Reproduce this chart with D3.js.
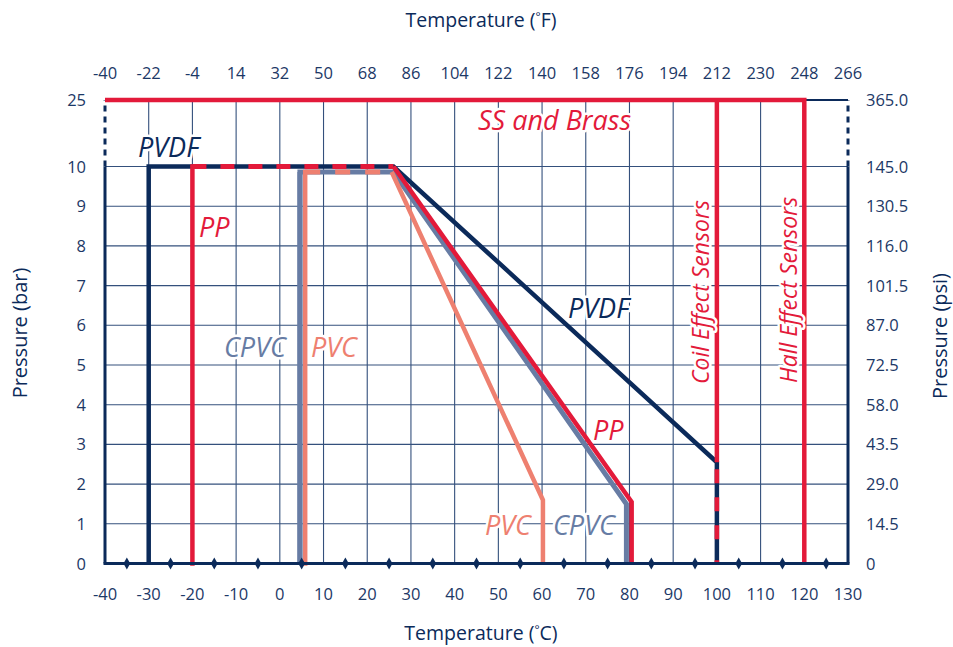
<!DOCTYPE html>
<html>
<head>
<meta charset="utf-8">
<script src="https://cdn.jsdelivr.net/npm/d3@7"></script>
<style>
  html, body { margin: 0; padding: 0; background: #fff; }
  svg { display: block; font-family: "Open Sans", "Noto Sans", sans-serif; }
</style>
</head>
<body>
<svg id="chart" width="953" height="647"></svg>
<script>
// ---------- data ----------
const celsiusTicks = [-40, -30, -20, -10, 0, 10, 20, 30, 40, 50, 60, 70, 80, 90, 100, 110, 120, 130];
const fahrenheitLabels = ["-40", "-22", "-4", "14", "32", "50", "68", "86", "104", "122", "140", "158", "176", "194", "212", "230", "248", "266"];
const barTicks = [0, 1, 2, 3, 4, 5, 6, 7, 8, 9, 10, 25];
const psiLabels = ["0", "14.5", "29.0", "43.5", "58.0", "72.5", "87.0", "101.5", "116.0", "130.5", "145.0", "365.0"];
const markerTemps = [-35, -25, -15, -5, 5, 15, 25, 35, 45, 55, 65, 75, 85, 95, 105, 115, 125];

// series: [°C, bar]
const pvdf = [[-30, 0], [-30, 10], [26, 10], [100, 2.55], [100, 0]];
const pp = [[-20, 0], [-20, 10], [26, 10], [80.5, 1.55], [80.5, 0]];
const cpvc = [[4.6, 0], [4.6, 9.86], [26, 9.86], [79.3, 1.5], [79.3, 0]];
const pvc = [[5.8, 0], [5.8, 9.86], [25.6, 9.86], [60.2, 1.6], [60.2, 0]];
const ssBrass = [[-40, 25], [120, 25], [120, 0]];
const coilEffect = [[100, 25], [100, 2.55]];

// ---------- styles ----------
const NAVY = "#0b2a5a";
const RED = "#e31a3a";
const GRAY = "#677ca4";
const SALMON = "#ee8070";
const TEXT = "#1c3866";
const GRID = "#34507c";

const svg = d3.select("#chart");
const x = d3.scaleLinear().domain([-40, 130]).range([105, 848]);
const y = d3.scaleLinear().domain([0, 10, 25]).range([563.5, 166.5, 100]);
const line = d3.line().x(d => x(d[0])).y(d => y(d[1]));

// ---------- grid ----------
const grid = svg.append("g");
grid.selectAll(".vg").data(celsiusTicks.slice(1, -1)).join("line")
  .attr("x1", d => x(d)).attr("x2", d => x(d))
  .attr("y1", y(25)).attr("y2", y(0))
  .attr("stroke", GRID).attr("stroke-width", 1.1);
grid.selectAll(".hg").data(barTicks.filter(d => d > 0 && d <= 10)).join("line")
  .attr("x1", x(-40)).attr("x2", x(130))
  .attr("y1", d => y(d)).attr("y2", d => y(d))
  .attr("stroke", GRID).attr("stroke-width", 1.1);

// top border (navy), axes
svg.append("line").attr("x1", x(-40)).attr("x2", x(130)).attr("y1", y(25)).attr("y2", y(25))
  .attr("stroke", NAVY).attr("stroke-width", 2);
[-40, 130].forEach(t => {
  svg.append("line").attr("x1", x(t)).attr("x2", x(t)).attr("y1", y(0)).attr("y2", y(10))
    .attr("stroke", NAVY).attr("stroke-width", 3);
  svg.append("line").attr("x1", x(t)).attr("x2", x(t)).attr("y1", y(10)).attr("y2", y(25))
    .attr("stroke", NAVY).attr("stroke-width", 3).attr("stroke-dasharray", "6,5");
});

// ---------- series ----------
function path(data, color, w, dash, cap) {
  const p = svg.append("path").datum(data).attr("d", line)
    .attr("fill", "none").attr("stroke", color).attr("stroke-width", w)
    .attr("stroke-linejoin", "miter").attr("stroke-linecap", cap || "butt");
  if (dash) p.attr("stroke-dasharray", dash);
  return p;
}
// CPVC (gray) and PVC (salmon); shared top edge drawn dashed
path(cpvc, GRAY, 5);
path(pvc.slice(0, 2), SALMON, 4.5, null, "square");
path(pvc.slice(2), SALMON, 4.5);
path(pvc.slice(1, 3), SALMON, 5, "15,15");
path(cpvc.slice(0, 2), GRAY, 5);
// PVDF (navy) and PP (red); shared top edge drawn dashed
path(pvdf, NAVY, 4.5);
path(pp.slice(0, 2), RED, 4.5, null, "square");
path(pp.slice(2), RED, 4.5);
path(pp.slice(1, 3), RED, 5, "14,14");
// SS and Brass, sensors
path(ssBrass, RED, 4.5);
path(coilEffect, RED, 4.5);
path(pvdf.slice(3, 5), RED, 4.6, "0,7,14,14,14,14,14,14");

// bottom axis
svg.append("line").attr("x1", x(-40) - 1.5).attr("x2", x(130) + 1.5).attr("y1", y(0)).attr("y2", y(0))
  .attr("stroke", NAVY).attr("stroke-width", 3);
svg.selectAll(".mk").data(markerTemps).join("path")
  .attr("d", d3.symbol(d3.symbolDiamond, 40))
  .attr("transform", d => `translate(${x(d)},${y(0)})`)
  .attr("fill", NAVY);

// ---------- tick labels ----------
const TS = 16.5;
svg.selectAll(".bt").data(celsiusTicks).join("text")
  .attr("x", d => x(d)).attr("y", 600).attr("text-anchor", "middle")
  .attr("font-size", TS).attr("fill", TEXT).text(d => d);
svg.selectAll(".tt").data(fahrenheitLabels).join("text")
  .attr("x", (d, i) => x(celsiusTicks[i])).attr("y", 79).attr("text-anchor", "middle")
  .attr("font-size", TS).attr("fill", TEXT).text(d => d);
svg.selectAll(".lt").data(barTicks).join("text")
  .attr("x", 86).attr("y", d => y(d) + 6).attr("text-anchor", "end")
  .attr("font-size", TS).attr("fill", TEXT).text(d => d);
svg.selectAll(".rt").data(psiLabels).join("text")
  .attr("x", 866).attr("y", (d, i) => y(barTicks[i]) + 6).attr("text-anchor", "start")
  .attr("font-size", TS).attr("fill", TEXT).text(d => d);

// ---------- titles ----------
function vtitle(txt, tx, ty) {
  svg.append("text").attr("text-anchor", "middle").attr("font-size", 20)
    .attr("fill", NAVY)
    .attr("transform", `translate(${tx},${ty}) rotate(-90)`)
    .text(txt);
}
function htitle(unit, ty) {
  const t = svg.append("text").attr("x", 481).attr("y", ty).attr("text-anchor", "middle")
    .attr("font-size", 19.5).attr("fill", NAVY);
  t.append("tspan").text("Temperature (");
  t.append("tspan").attr("font-size", 12).attr("dy", -6).text("°");
  t.append("tspan").attr("dy", 6).text(unit + ")");
}
htitle("F", 27);
htitle("C", 640);
vtitle("Pressure (bar)", 27, 333);
vtitle("Pressure (psi)", 947, 336);

// ---------- series labels ----------
function label(txt, color, px, py, size, rot) {
  svg.append("text")
    .attr("transform", `translate(${px},${py})` + (rot ? ` rotate(${rot})` : ""))
    .attr("font-size", size).attr("font-style", "italic").attr("fill", color)
    .attr("stroke", "#fff").attr("stroke-width", 5).attr("paint-order", "stroke")
    .attr("stroke-linejoin", "round")
    .text(txt);
}
label("PVDF", NAVY, 138, 157, 27);
label("PVDF", NAVY, 568, 318, 27);
label("PP", RED, 199, 237, 27);
label("PP", RED, 593, 440, 27);
label("CPVC", GRAY, 224, 357, 27);
label("PVC", SALMON, 311, 357, 27);
label("PVC", SALMON, 485, 535, 27);
label("CPVC", GRAY, 553, 535, 27);
label("SS and Brass", RED, 478, 130, 27);
label("Coil Effect Sensors", RED, 709, 384, 23, -90);
label("Hall Effect Sensors", RED, 797, 383, 23, -90);
</script>
</body>
</html>
